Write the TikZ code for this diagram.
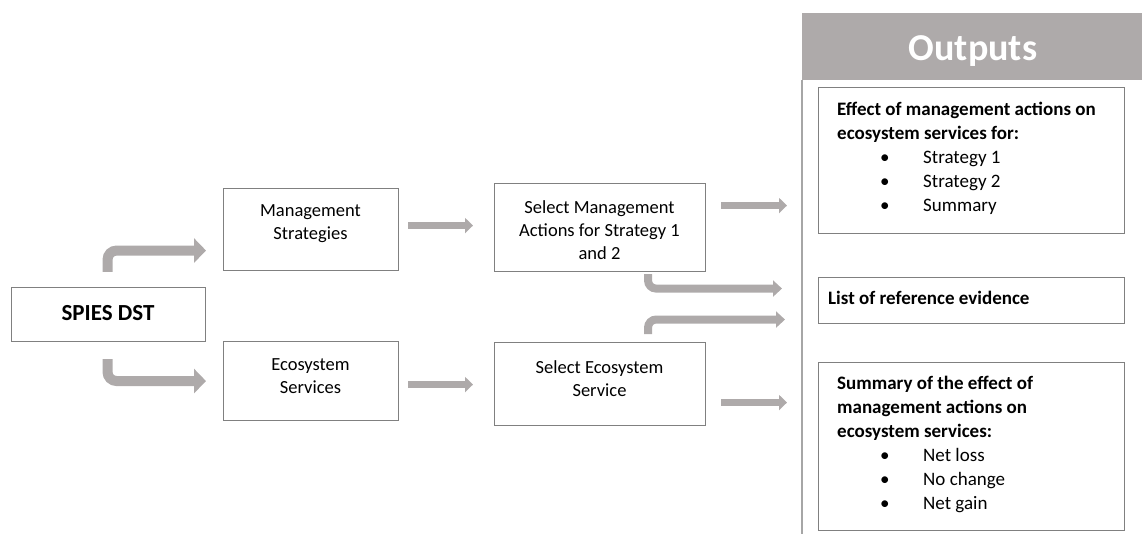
\documentclass[tikz,border=0pt]{standalone}
\usepackage{fontspec}
\setmainfont{Carlito}
\usetikzlibrary{arrows.meta,calc}
\definecolor{arrgray}{HTML}{AEAAAA}
\definecolor{boxgray}{HTML}{808080}
\definecolor{panelgray}{HTML}{A6A6A6}
\begin{document}
\begin{tikzpicture}[x=1pt,y=-1pt,
  box/.style={draw=boxgray, line width=1.1pt, fill=white, anchor=north west, inner sep=0pt},
  txt/.style={font=\fontsize{18.5}{23}\selectfont, align=center, inner sep=0pt, anchor=north},
  otxt/.style={font=\fontsize{19}{24}\selectfont, align=left, inner sep=0pt, anchor=north west},
  bigarr/.style={draw=arrgray, line width=10pt, rounded corners=9pt, -{Triangle[width=24pt,length=12pt]}},
  midarr/.style={draw=arrgray, line width=8pt, rounded corners=8pt, -{Triangle[width=16pt,length=9pt]}},
  smallarr/.style={draw=arrgray, line width=6.5pt, -{Triangle[width=15pt,length=8pt]}},
]
\useasboundingbox (0,0) rectangle (1142,534);

% Outputs panel
\node[fill=arrgray, anchor=north west, minimum width=340pt, minimum height=67pt, inner sep=0pt] (header) at (802,13) {};
\draw[panelgray, line width=2pt] (header.south west) -- (header.south west |- 0,534);
\node[anchor=base, inner sep=0pt, text=white, font=\fontsize{38}{40}\selectfont\bfseries] (outputs) at (973,61) {Outputs};

% left boxes
\node[box, minimum width=194pt, minimum height=54pt] (spies) at (11,287) {};
\node[inner sep=0pt, font=\fontsize{23}{27}\selectfont\bfseries] (spiest) at (108,313) {SPIES DST};

\node[box, minimum width=175pt, minimum height=82pt] (ms) at (223,188) {};
\node[txt] (mst) at (310.5,204.5) {Management\\Strategies};

\node[box, minimum width=175pt, minimum height=79pt] (es) at (223,341) {};
\node[txt] (est) at (310.5,358) {Ecosystem\\Services};

\node[box, minimum width=211pt, minimum height=88pt] (sma) at (494,183) {};
\node[txt] (smat) at (599.5,200) {Select Management\\Actions for Strategy 1\\and 2};

\node[box, minimum width=211pt, minimum height=83pt] (sec) at (494,342) {};
\node[txt] (sect) at (599.5,360) {Select Ecosystem\\Service};

% output boxes
\node[box, minimum width=306pt, minimum height=146pt] (o1) at (818,87) {};
\node[otxt] (o1t) at (837,102) {\bfseries Effect of management actions on\\
\bfseries ecosystem services for:\\
\hspace*{43pt}\makebox[43pt][l]{\textbullet}Strategy 1\\
\hspace*{43pt}\makebox[43pt][l]{\textbullet}Strategy 2\\
\hspace*{43pt}\makebox[43pt][l]{\textbullet}Summary};

\node[box, minimum width=306pt, minimum height=46pt] (o2) at (818,277) {};
\node[otxt] (o2t) at (828,291) {\bfseries List of reference evidence};

\node[box, minimum width=306pt, minimum height=168pt] (o3) at (818,362) {};
\node[otxt] (o3t) at (837,376) {\bfseries Summary of the effect of\\
\bfseries management actions on\\
\bfseries ecosystem services:\\
\hspace*{43pt}\makebox[43pt][l]{\textbullet}Net loss\\
\hspace*{43pt}\makebox[43pt][l]{\textbullet}No change\\
\hspace*{43pt}\makebox[43pt][l]{\textbullet}Net gain};

% arrows
\draw[bigarr] ($(spies.north)+(-1,-15)$) |- ($(ms.west)+(-17,21)$);
\draw[bigarr] ($(spies.south)+(-1,17)$) |- ($(es.west)+(-17,0)$);
\draw[smallarr] ($(ms.east)+(9,-4)$) -- ($(ms.east -| sma.west)+(-21,-4)$);
\draw[smallarr] ($(es.east)+(9,3.5)$) -- ($(es.east -| sec.west)+(-21,3.5)$);
\draw[smallarr] ($(sma.east)+(15,-22)$) -- ($(sma.east -| o1.west)+(-31,-22)$);
\draw[smallarr] ($(sec.east)+(15,18.5)$) -- ($(sec.east -| o3.west)+(-31,18.5)$);
\draw[midarr] ($(sma.south)+(48,2)$) |- ($(o2.west)+(-36,-12)$);
\draw[midarr] ($(sec.north)+(48,-8)$) |- ($(o2.west)+(-33,19)$);
\end{tikzpicture}
\end{document}
